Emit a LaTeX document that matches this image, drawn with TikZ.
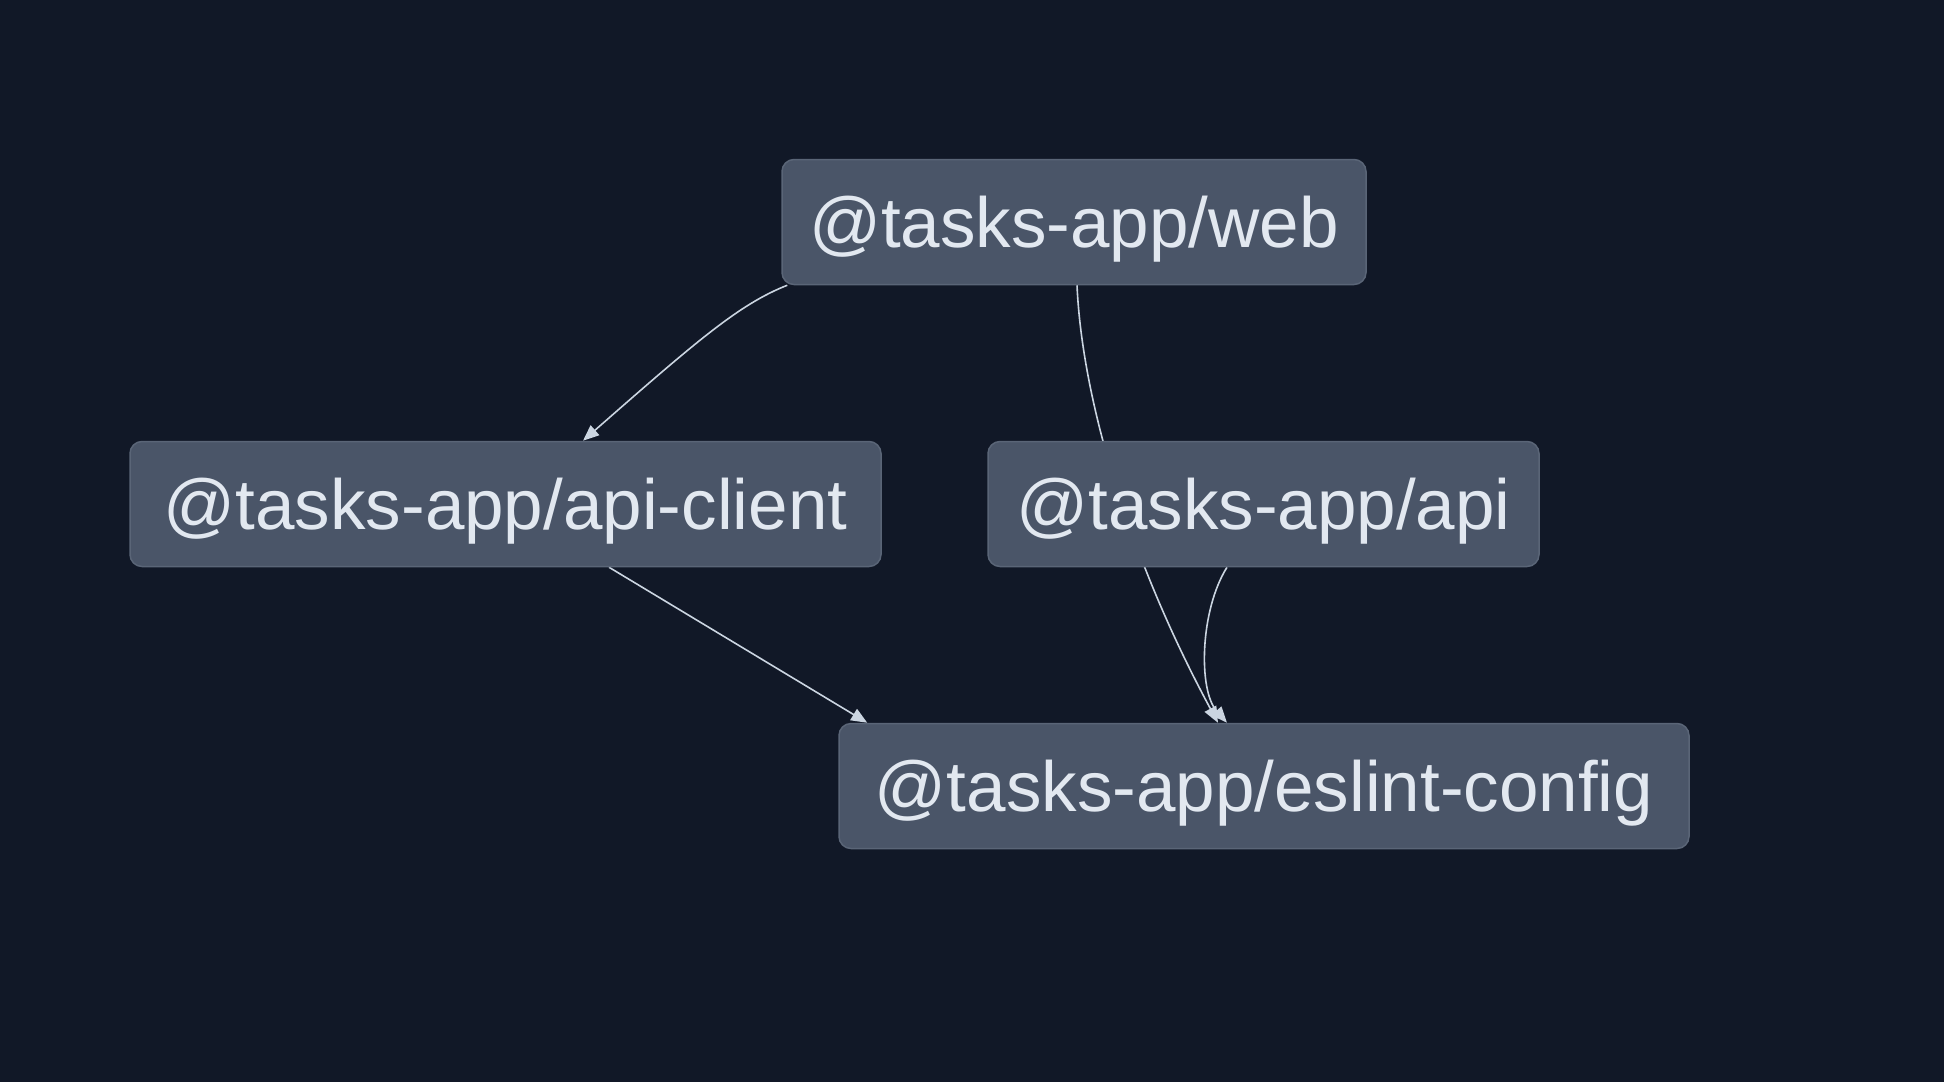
\documentclass[tikz,border=0pt]{standalone}
\usepackage{fontspec}
\setmainfont{Liberation Sans}
\usetikzlibrary{arrows.meta}
\definecolor{bgc}{HTML}{111827}
\definecolor{boxfill}{HTML}{4A5568}
\definecolor{boxline}{HTML}{5A6577}
\definecolor{txt}{HTML}{E2E8F0}
\definecolor{edgec}{HTML}{CBD5E1}
\pgfdeclarelayer{edgelayer}
\pgfdeclarelayer{backlayer}
\pgfsetlayers{backlayer,edgelayer,main}
\tikzset{
  pkg/.style={rectangle, rounded corners=12pt, fill=boxfill, draw=boxline, line width=1.5pt,
    text=txt, inner sep=0pt, minimum height=125pt, text height=55pt, text depth=5pt,
    font=\fontsize{71}{80}\selectfont},
  dep/.style={draw=edgec, line width=1.6pt, -{Triangle[length=16pt,width=13pt]}},
}
\begin{document}
\begin{tikzpicture}[x=1pt,y=-1pt]
\begin{pgfonlayer}{backlayer}
\fill[bgc] (0,0) rectangle (1944,1082);
\end{pgfonlayer}
\useasboundingbox (0,0) rectangle (1944,1082);
% nodes
\node[pkg, minimum width=584pt] (web) at (1074,222) {@tasks-app/web};
\node[pkg, minimum width=751pt] (apiclient) at (505.5,504) {@tasks-app/api-client};
\node[pkg, minimum width=551pt] (api) at (1263.5,504) {@tasks-app/api};
\node[pkg, minimum width=850pt] (eslint) at (1264,786) {@tasks-app/eslint-config};
% edges (behind nodes)
\begin{pgfonlayer}{edgelayer}
\draw[dep] ([xshift=6pt]web.south west) .. controls (740,304) and (700,338) .. ([xshift=77.5pt]apiclient.north);
\draw[dep] ([xshift=3pt]web.south) .. controls (1082,400) and (1130,560) .. ([xshift=-46pt]eslint.north);
\draw[dep] ([xshift=103.5pt]apiclient.south) -- ([xshift=29pt]eslint.north west);
\draw[dep] ([xshift=-36.5pt]api.south) .. controls (1200,610) and (1198,690) .. ([xshift=-37pt]eslint.north);
\end{pgfonlayer}
\end{tikzpicture}
\end{document}
